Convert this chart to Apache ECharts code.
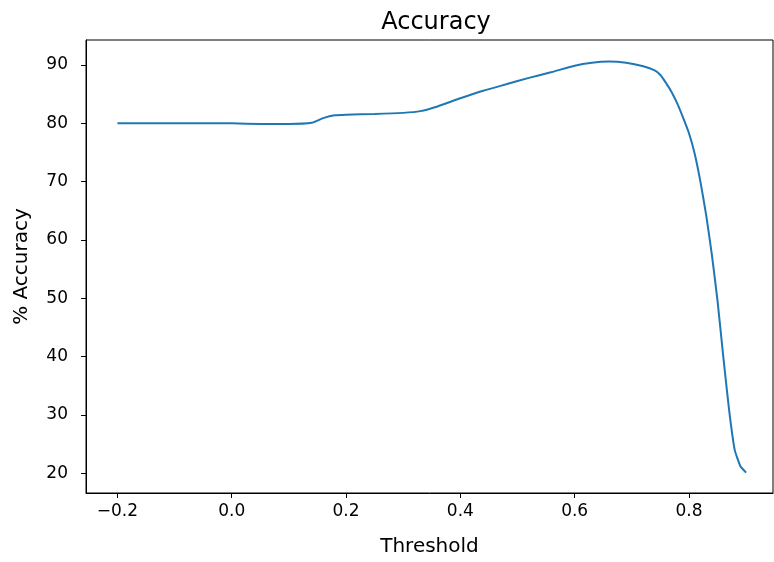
<!DOCTYPE html>
<html>
<head>
<meta charset="utf-8">
<script src="https://cdn.jsdelivr.net/npm/echarts@6/dist/echarts.min.js"></script>
<style>
	html, body { margin: 0; padding: 0; background: #fff; }
	#chart { width: 774px; height: 562px; }
</style>
</head>
<body>
<div id="chart"></div>
<script>
// values
var thresholds = [-0.2, -0.15, -0.1, -0.05, 0.0, 0.05, 0.1, 0.14, 0.16, 0.18, 0.2, 0.25, 0.3, 0.33, 0.36,
	0.4, 0.44, 0.48, 0.52, 0.56, 0.6, 0.63, 0.66, 0.69, 0.72, 0.74, 0.75, 0.76, 0.77, 0.78, 0.79, 0.8,
	0.81, 0.82, 0.83, 0.84, 0.85, 0.86, 0.87, 0.88, 0.89, 0.9];
var accuracy = [80.0, 80.0, 80.0, 80.0, 80.0, 79.9, 79.9, 80.1, 80.9, 81.4, 81.5, 81.6, 81.8, 82.1, 82.9,
	84.3, 85.6, 86.7, 87.8, 88.8, 89.9, 90.4, 90.6, 90.4, 89.8, 89.1, 88.3, 86.9, 85.3, 83.3, 80.9, 78.3,
	74.8, 70.0, 64.3, 57.5, 49.5, 40.0, 31.0, 24.0, 21.2, 20.1];

var xTicks = [-0.2, 0.0, 0.2, 0.4, 0.6, 0.8];
var yTicks = [20, 30, 40, 50, 60, 70, 80, 90];

var points = [];
for (var i = 0; i < thresholds.length; i++) {
	points.push([thresholds[i], accuracy[i]]);
}

var font = 'DejaVu Sans';
var myChart = echarts.init(document.getElementById('chart'));

var option = {
	animation: false,
	title: {
		text: 'Accuracy',
		left: 431,
		textAlign: 'center',
		top: 6,
		textStyle: { fontFamily: font, fontSize: 24, fontWeight: 'normal', color: '#000' }
	},
	grid: {
		left: 86,
		right: 1,
		top: 40,
		bottom: 69,
		show: true,
		borderColor: '#000',
		borderWidth: 1
	},
	xAxis: {
		type: 'value',
		min: -0.255,
		max: 0.947,
		name: 'Threshold',
		nameLocation: 'middle',
		nameGap: 44,
		nameTextStyle: { fontFamily: font, fontSize: 20, color: '#000' },
		splitLine: { show: false },
		axisLine: { show: true, onZero: false, lineStyle: { color: '#000' } },
		axisTick: { show: true, length: 5, inside: false, customValues: xTicks, lineStyle: { color: '#000' } },
		axisLabel: {
			customValues: xTicks,
			margin: 10,
			fontFamily: font,
			fontSize: 17,
			color: '#000',
			formatter: function (v) {
				return v.toFixed(1).replace('-', '\u2212');
			}
		}
	},
	yAxis: {
		type: 'value',
		min: 16.6,
		max: 94.3,
		name: '% Accuracy',
		nameLocation: 'middle',
		nameGap: 54,
		nameRotate: 90,
		nameTextStyle: { fontFamily: font, fontSize: 20, color: '#000' },
		splitLine: { show: false },
		axisLine: { show: true, onZero: false, lineStyle: { color: '#000' } },
		axisTick: { show: true, length: 5, inside: false, customValues: yTicks, lineStyle: { color: '#000' } },
		axisLabel: {
			customValues: yTicks,
			margin: 18,
			fontFamily: font,
			fontSize: 17,
			color: '#000'
		}
	},
	series: [{
		name: 'Accuracy',
		type: 'line',
		data: points,
		showSymbol: false,
		smooth: 0.15,
		lineStyle: { color: '#1f77b4', width: 2 },
		itemStyle: { color: '#1f77b4' }
	}]
};

myChart.setOption(option);
</script>
</body>
</html>
